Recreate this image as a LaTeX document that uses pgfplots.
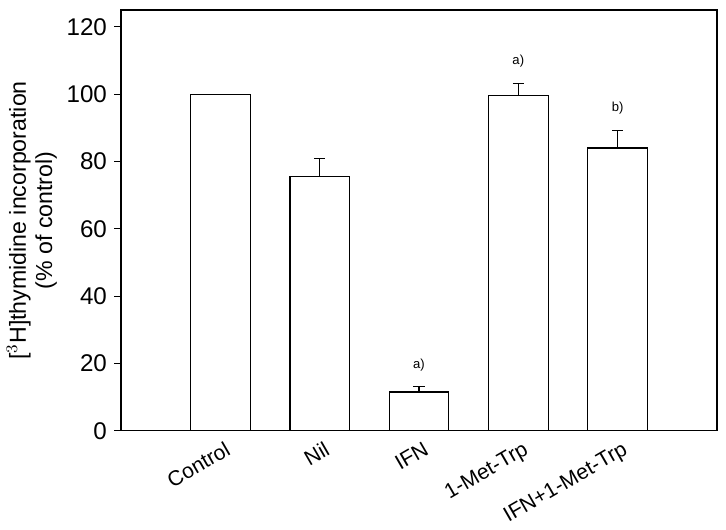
\documentclass[border=0pt]{standalone}
\usepackage{fontspec}
\setmainfont{Liberation Sans}
\usepackage{pgfplots}
\pgfplotsset{compat=1.18}

\begin{document}
\begin{tikzpicture}
\begin{axis}[
  scale only axis,
  width=296pt, height=209pt,
  xmin=0, xmax=6, ymin=0, ymax=125,
  ybar, bar width=0.6,
  xtick={1,2,3,4,5},
  xticklabels={Control, Nil, IFN, 1-Met-Trp, IFN+1-Met-Trp},
  xticklabel style={rotate=30, anchor=north east, font=\fontsize{10.5}{12}\selectfont, inner sep=1pt},
  x tick label style={yshift=-1pt, xshift=2pt},
  major x tick style={draw=none},
  ytick={0,20,40,60,80,100,120},
  yticklabel style={font=\fontsize{12}{14}\selectfont},
  tick align=outside, tick pos=left,
  major tick length=3.5pt,
  /pgf/number format/assume math mode=true,
  ylabel={[$^3$H]thymidine incorporation\\(\% of control)},
  ylabel style={align=center, font=\fontsize{11.5}{13}\selectfont, yshift=-2pt},
  axis line style={line width=0.6pt},
  every tick/.style={line width=0.6pt, black},
  error bars/y dir=plus,
  error bars/y explicit,
  error bars/error bar style={line width=0.6pt, black},
  error bars/error mark options={rotate=90, mark size=2.75pt, line width=0.6pt, black},
]
\addplot[fill=white, draw=black, line width=0.6pt]
  coordinates {(1,100) +- (0,0)
               (2,75.5) +- (0,5.3)
               (3,11.5) +- (0,1.6)
               (4,99.6) +- (0,3.5)
               (5,84.0) +- (0,5.2)};
\node[font=\fontsize{6.5}{7}\selectfont] at (axis cs:3,19.5) {a)};
\node[font=\fontsize{6.5}{7}\selectfont] at (axis cs:4,109.9) {a)};
\node[font=\fontsize{6.5}{7}\selectfont] at (axis cs:5,95.8) {b)};
\end{axis}
\path (current axis.north east) ++(4.5pt,5pt);
\end{tikzpicture}
\end{document}
